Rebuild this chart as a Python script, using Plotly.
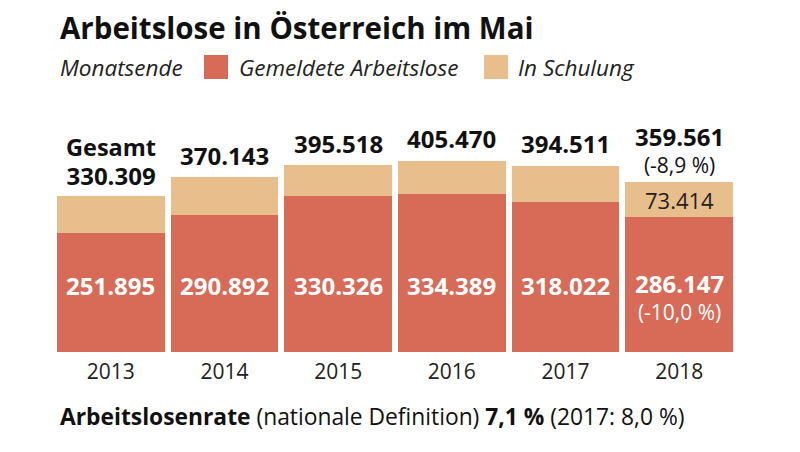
import plotly.graph_objects as go

years = [2013, 2014, 2015, 2016, 2017, 2018]
year_labels = ["2013", "2014", "2015", "2016", "2017", "2018"]
gesamt = [330309, 370143, 395518, 405470, 394511, 359561]
gemeldete = [251895, 290892, 330326, 334389, 318022, 286147]
schulung = [g - a for g, a in zip(gesamt, gemeldete)]
veraenderung_gesamt = "(-8,9 %)"
veraenderung_gemeldet = "(-10,0 %)"

RED = "#D76B57"
TAN = "#E8BF8C"
FONT = "Open Sans"
INK = "#111111"
NUM = 24  # size of the bar value labels

# page body has an 8px margin: figure sits at (8, 8) in the window
OFF = 8
W, H = 792, 444
L, R, T, B = 46, 64, 141, 100


def fmt(v):
    return f"{v:,}".replace(",", ".")


def px(x, y):
    fx, fy = x - OFF, y - OFF
    return (fx - L) / (W - L - R), (H - B - fy) / (H - T - B)


def span(text, size, bold=False):
    t = f"<b>{text}</b>" if bold else text
    return f"<span style='font-size:{size}px'>{t}</span>"


fig = go.Figure()
fig.add_trace(go.Bar(x=years, y=gemeldete, marker_color=RED, marker_line_width=0,
                     name="Gemeldete Arbeitslose", hoverinfo="skip"))
fig.add_trace(go.Bar(x=years, y=schulung, marker_color=TAN, marker_line_width=0,
                     name="In Schulung", hoverinfo="skip"))

# totals above bars
for i, (yr, tot) in enumerate(zip(years, gesamt)):
    if i == 0:
        # base font size sets the line pitch; visible text is larger
        fig.add_annotation(x=yr, y=tot, showarrow=False, yanchor="middle", yshift=35,
                           text=span("Gesamt", 23.5, True) + "<br>" + span(fmt(tot), NUM, True),
                           font=dict(family=FONT, size=22.5, color=INK))
    elif i == len(years) - 1:
        fig.add_annotation(x=yr, y=tot, showarrow=False, yanchor="middle", yshift=33,
                           text=span(fmt(tot), NUM, True) + "<br>" + span(veraenderung_gesamt, 21),
                           font=dict(family=FONT, size=20.8, color=INK))
    else:
        fig.add_annotation(x=yr, y=tot, text="<b>" + fmt(tot) + "</b>", showarrow=False,
                           yanchor="middle", yshift=22, font=dict(family=FONT, size=NUM, color=INK))

# values inside the red segment
for i, (yr, v) in enumerate(zip(years, gemeldete)):
    if i == len(years) - 1:
        fig.add_annotation(x=yr, y=0, showarrow=False, yanchor="middle", yshift=56,
                           text=span(fmt(v), NUM, True) + "<br>" + span(veraenderung_gemeldet, 21),
                           font=dict(family=FONT, size=20.5, color="white"))
    else:
        fig.add_annotation(x=yr, y=0, text="<b>" + fmt(v) + "</b>", showarrow=False,
                           yanchor="middle", yshift=67, font=dict(family=FONT, size=NUM, color="white"))

fig.add_annotation(x=years[-1], y=gemeldete[-1] + schulung[-1] / 2, text=fmt(schulung[-1]),
                   showarrow=False, yanchor="middle",
                   font=dict(family=FONT, size=22, color="#222"))

# title
tx, ty = px(58, 27)
fig.add_annotation(x=tx, y=ty, xref="paper", yref="paper",
                   text="<b>Arbeitslose in Österreich im Mai</b>", showarrow=False,
                   xanchor="left", yanchor="middle", font=dict(family=FONT, size=29.5, color=INK))

# legend row
for text, x0 in [("Monatsende", 58), ("Gemeldete Arbeitslose", 237), ("In Schulung", 516)]:
    xp, yp = px(x0, 67)
    fig.add_annotation(x=xp, y=yp, xref="paper", yref="paper", text="<i>" + text + "</i>",
                       showarrow=False, xanchor="left", yanchor="middle",
                       font=dict(family=FONT, size=22.5, color="#222"))

for x0, col in [(204, RED), (484, TAN)]:
    a0, b0 = px(x0, 79)
    a1, b1 = px(x0 + 24, 55)
    fig.add_shape(type="rect", xref="paper", yref="paper", x0=a0, x1=a1, y0=b0, y1=b1,
                  fillcolor=col, line=dict(width=0), layer="above")

xp, yp = px(58, 416)
fig.add_annotation(x=xp, y=yp, xref="paper", yref="paper",
                   text="<b>Arbeitslosenrate</b> (nationale Definition) <b>7,1 %</b> (2017: 8,0 %)",
                   showarrow=False, xanchor="left", yanchor="middle",
                   font=dict(family=FONT, size=22.8, color=INK))

fig.update_layout(
    barmode="stack", bargap=0.05,
    width=W, height=H,
    margin=dict(l=L, r=R, t=T, b=B, autoexpand=False),
    plot_bgcolor="white", paper_bgcolor="white",
    showlegend=False,
    xaxis=dict(range=[2012.5, 2018.5], tickvals=years, ticktext=year_labels,
               showgrid=False, zeroline=False, showline=False, ticks="",
               ticklabelstandoff=5,
               tickfont=dict(family=FONT, size=21, color="#222")),
    yaxis=dict(range=[0, 430000], visible=False),
)
fig.write_html("out.html")
